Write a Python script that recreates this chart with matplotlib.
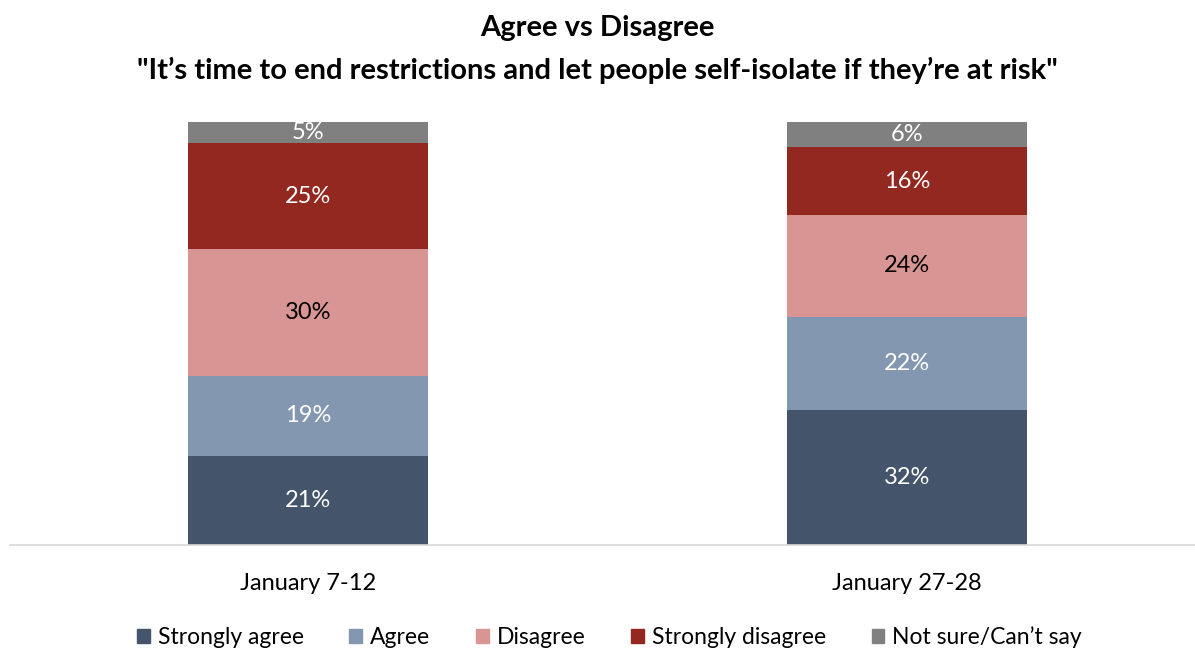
import numpy as np
import matplotlib.pyplot as plt
from matplotlib.patches import Patch

plt.rcParams['font.family'] = ['Lato', 'DejaVu Sans']

# data
periods = ['January 7-12', 'January 27-28']
categories = ['Strongly agree', 'Agree', 'Disagree', 'Strongly disagree', 'Not sure/Can\u2019t say']
strongly_agree = [21, 32]
agree = [19, 22]
disagree = [30, 24]
strongly_disagree = [25, 16]
not_sure = [5, 6]

series = [strongly_agree, agree, disagree, strongly_disagree, not_sure]
colors = ['#44546a', '#8497b0', '#d99594', '#922820', '#808080']
text_colors = ['white', 'white', 'black', 'white', 'white']

fig = plt.figure(figsize=(11.95, 6.53), dpi=100)
ax = fig.add_axes([10/1195, 108/653, 1 - 10/1195, 423/653])

x = np.arange(len(periods))
bottom = np.zeros(len(periods))
for vals, c, tc in zip(series, colors, text_colors):
    vals = np.array(vals, dtype=float)
    ax.bar(x, vals, 0.4, bottom=bottom, color=c)
    for xi, b, v in zip(x, bottom, vals):
        ax.text(xi, b + v / 2, f'{int(v)}%', ha='center', va='center',
                color=tc, fontsize=17)
    bottom += vals

ax.set_xlim((10 - 308) / 599, (1195 - 308) / 599)
ax.set_ylim(0, 100)
ax.set_xticks(x)
ax.set_xticklabels(periods, fontsize=17)
ax.tick_params(axis='x', length=0, pad=20)
ax.set_yticks([])
for s in ['top', 'right', 'left']:
    ax.spines[s].set_visible(False)
ax.spines['bottom'].set_color('#d9d9d9')
ax.spines['bottom'].set_linewidth(1.2)

fig.text(0.5, 1 - 28/653, 'Agree vs Disagree', ha='center', va='center',
         fontsize=21, fontweight='bold')
fig.text(0.5, 1 - 70/653,
         '"It\u2019s time to end restrictions and let people self-isolate if they\u2019re at risk"',
         ha='center', va='center', fontsize=21, fontweight='bold')

handles = [Patch(color=c, label=l) for c, l in zip(colors, categories)]
fig.legend(handles=handles, loc='center', bbox_to_anchor=(0.51, 16/653),
           ncol=5, frameon=False, fontsize=16.5, handlelength=0.55,
           handleheight=0.55, handletextpad=0.35, columnspacing=2.0)

fig.savefig('out.png', dpi=100)
